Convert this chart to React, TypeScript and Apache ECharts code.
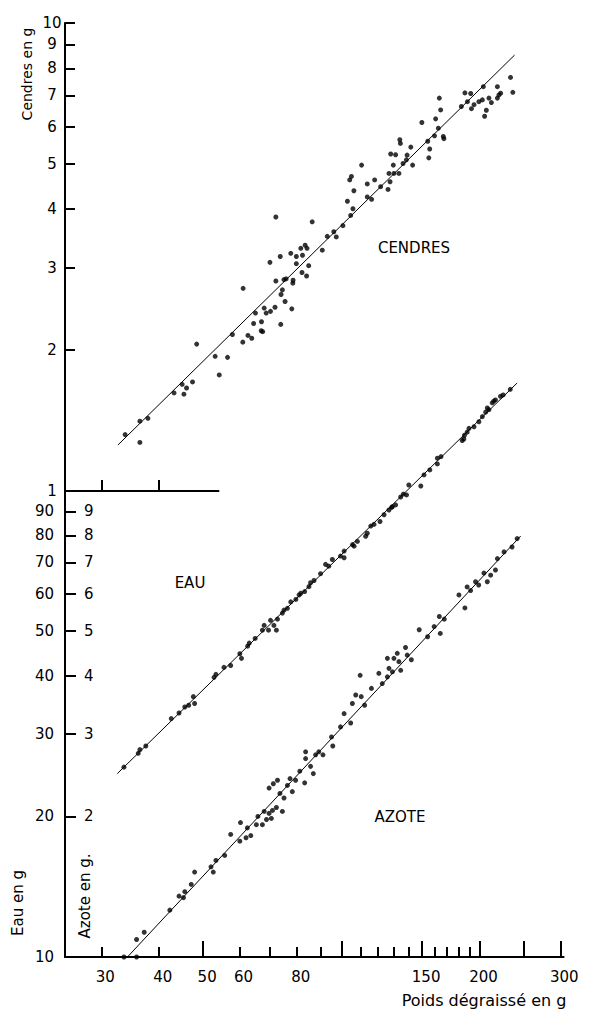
import React, { useEffect, useRef } from "react";
import * as echarts from "echarts";

// Poids dégraissé (g) vs Cendres (g)
const cendres: [number, number][] = [
  [33.8,1.32],[36.4,1.27],[36.4,1.41],[37.9,1.43],[43.2,1.62],[45.0,1.69],[45.4,1.61],[46.0,1.66],[47.4,1.71],[48.4,2.06],
  [53.1,1.94],[54.2,1.77],[56.5,1.93],[57.9,2.16],[61.1,2.71],[61.0,2.08],[62.6,2.15],[63.8,2.12],[64.4,2.28],[65.0,2.40],
  [66.9,2.20],[67.4,2.19],[67.0,2.30],[67.9,2.46],[68.6,2.40],[70.1,2.42],[71.7,2.47],[73.8,2.27],[78.0,2.45],[75.4,2.54],
  [73.9,2.63],[74.4,2.69],[72.0,2.81],[75.0,2.83],[75.8,2.84],[78.4,2.78],[78.5,2.82],[69.9,3.08],[73.6,3.17],[72.0,3.85],
  [77.6,3.22],[79.8,3.17],[79.8,3.06],[81.6,3.30],[83.4,3.35],[82.3,3.19],[82.1,2.93],[84.0,2.88],[84.9,3.03],[86.4,3.76],
  [84.2,3.30],[90.9,3.27],[93.2,3.50],[96.3,3.58],[97.5,3.49],[100.8,3.69],[104.8,3.88],[106.0,4.01],[103.1,4.16],[106.5,4.38],
  [104.3,4.62],[105.2,4.70],[110.7,4.97],[113.9,4.25],[116.4,4.20],[113.9,4.53],[118.2,4.62],[121.8,4.47],[126.4,4.41],[127.7,4.58],
  [127.0,4.77],[130.2,4.77],[133.5,4.77],[129.8,4.97],[128.1,5.25],[131.3,5.23],[134.1,5.63],[134.5,5.53],[136.3,5.01],[138.6,5.10],
  [139.1,5.22],[141.7,5.43],[143.0,4.97],[149.8,6.13],[154.3,5.59],[155.8,5.38],[155.1,5.15],[159.6,5.74],[160.5,6.24],[162.7,5.96],
  [164.6,6.52],[163.5,6.91],[166.8,5.72],[167.3,5.66],[182.6,6.63],[185.9,7.09],[191.4,7.07],[188.3,6.79],[192.1,6.56],[194.6,6.69],
  [199.4,6.79],[203.9,7.31],[205.2,6.32],[207.0,6.51],[202.9,6.85],[209.7,6.91],[212.3,6.76],[218.8,7.31],[220.5,7.02],[222.4,7.08],
  [218.8,6.91],[233.7,7.65],[236.4,7.11]
];
const cendresFit: [number, number][] = [[32.6, 1.254], [238.5, 8.54]];

// Poids dégraissé (g) vs Eau (g)
const eau: [number, number][] = [
  [33.6,25.5],[36.1,27.3],[36.4,27.8],[37.5,28.3],[42.6,32.4],[44.3,33.3],[45.6,34.3],[46.5,34.6],[47.6,36.1],[47.9,34.9],
  [52.8,39.7],[53.3,40.3],[55.5,41.7],[57.4,42.1],[60.1,44.6],[60.6,43.6],[62.5,46.3],[63.0,47.0],[64.9,48.1],[67.3,50.1],
  [67.9,51.3],[69.4,50.1],[70.1,52.6],[71.3,51.3],[72.2,50.1],[72.6,52.9],[74.4,54.5],[75.0,55.3],[76.3,55.8],[77.6,57.6],
  [79.6,58.3],[81.6,60.1],[83.2,60.6],[85.0,62.1],[87.2,64.0],[90.1,66.2],[93.9,68.7],[92.4,69.3],[95.6,71.0],[99.6,72.2],
  [101.4,74.0],[105.8,76.4],[108.4,77.6],[113.0,79.6],[115.9,83.7],[117.8,84.4],[121.4,85.6],[123.9,88.5],[127.0,90.6],[129.2,92.1],
  [131.3,92.9],[134.7,96.6],[136.5,98.0],[138.7,97.6],[140.3,102.5],[149.0,102.0],[151.4,107.7],[155.9,110.4],[161.9,113.7],[164.9,117.9],
  [161.9,117.0],[183.4,127.6],[185.5,131.0],[188.0,133.0],[194.6,136.6],[199.4,140.0],[202.9,143.6],[206.3,146.8],[208.0,149.8],[213.2,153.7],
  [216.7,155.9],[222.2,158.7],[225.2,159.8],[233.4,164.3],[80.9,59.6],[85.7,63.3],[106.6,75.8],[113.9,80.8],[101.4,71.6],[184.9,128.6],
  [189.7,135.5],[209.7,148.6],[214.9,155.0],[128.7,91.8]
];
const eauFit: [number, number][] = [[32.5, 24.7], [241.6, 169.5]];

// Poids dégraissé (g) vs Azote (g)
const azote: [number, number][] = [
  [33.6,1.0],[35.8,1.0],[35.8,1.09],[37.2,1.13],[42.3,1.26],[44.3,1.35],[45.3,1.34],[45.6,1.38],[47.1,1.43],[47.9,1.52],
  [52.0,1.56],[52.6,1.52],[53.3,1.61],[55.7,1.65],[57.4,1.83],[60.1,1.77],[60.3,1.94],[62.0,1.80],[62.4,1.89],[63.5,1.82],
  [65.3,1.92],[65.8,2.0],[67.3,1.92],[67.9,2.05],[68.7,1.97],[69.6,2.03],[70.4,1.98],[70.8,2.06],[72.2,2.09],[74.4,2.05],
  [69.6,2.30],[71.1,2.35],[72.6,2.39],[73.5,2.24],[75.0,2.19],[76.3,2.33],[77.3,2.41],[78.2,2.26],[79.5,2.39],[81.2,2.50],
  [83.2,2.36],[83.6,2.66],[83.6,2.75],[85.7,2.56],[86.9,2.47],[87.9,2.71],[89.3,2.75],[91.2,2.71],[95.2,2.96],[95.8,2.83],
  [99.6,3.11],[101.4,3.32],[104.8,3.17],[105.7,3.49],[107.5,3.64],[110.5,3.61],[112.4,3.46],[116.3,3.76],[109.9,4.01],[120.7,4.05],
  [122.8,3.85],[126.0,3.98],[127.0,4.15],[129.2,4.08],[126.0,4.36],[130.2,4.36],[132.4,4.47],[133.5,4.29],[134.7,4.11],[138.0,4.60],
  [139.2,4.43],[142.1,4.33],[147.8,5.02],[154.2,4.85],[159.3,5.10],[163.5,5.36],[164.3,4.93],[167.6,5.29],[180.4,5.96],[185.9,5.59],
  [188.0,6.20],[191.3,6.09],[196.1,6.36],[199.2,6.26],[204.5,6.64],[208.0,6.36],[211.5,6.57],[216.7,6.74],[218.8,7.13],[226.2,7.37],
  [235.5,7.55],[241.6,7.87]
];
const azoteFit: [number, number][] = [[34.0, 0.994], [245.9, 7.97]];

// Tick / label values
const topXTicks = [30, 40];
const xTicksShort = [30, 40, 60, 70, 80, 90, 110, 120, 130, 140, 160, 170, 180, 190];
const xTicksLong = [50, 100, 150, 200, 250, 300];
const xLabels = [30, 40, 50, 60, 80, 150, 200, 300];
const cendresTicks = [1, 2, 3, 4, 5, 6, 7, 8, 9, 10];
const eauTicks = [10, 20, 30, 40, 50, 60, 70, 80, 90];
const azoteLabels = [2, 3, 4, 5, 6, 7, 8, 9];

const FONT = "DejaVu Sans";
const BLACK = "#000";

export default function App() {
  const ref = useRef<HTMLDivElement>(null);

  useEffect(() => {
    if (!ref.current) return;
    const chart = echarts.init(ref.current, undefined, { renderer: "svg" });
    const line = { show: true, onZero: false, lineStyle: { color: BLACK, width: 2 } };
    const labelStyle = { color: BLACK, fontFamily: FONT, fontSize: 15 };
    const dots = { symbol: "circle", symbolSize: 5, itemStyle: { color: BLACK }, clip: false, silent: true };
    const fit = { symbol: "none", showSymbol: false, lineStyle: { color: BLACK, width: 1 }, clip: false, silent: true };
    const hidden = { axisLine: { show: false }, axisTick: { show: false }, axisLabel: { show: false }, splitLine: { show: false } };

    chart.setOption({
      animation: false,
      backgroundColor: "#fff",
      grid: [
        // top panel: short visible axes
        { left: 65, top: 23, width: 153.5, height: 468, containLabel: false, outerBoundsMode: "none" },
        // bottom panel
        { left: 65, top: 490, width: 498.6, height: 467, containLabel: false, outerBoundsMode: "none" },
        // top panel: full-width data grid (same scale as the bottom x axis)
        { left: 65, top: 23, width: 498.6, height: 468, containLabel: false, outerBoundsMode: "none" },
      ],
      xAxis: [
        {
          gridIndex: 0, type: "log", logBase: 10, min: 25, max: 54, position: "bottom",
          axisLine: line,
          axisTick: { show: true, inside: true, length: 11, customValues: topXTicks, lineStyle: { color: BLACK, width: 2 } },
          axisLabel: { show: false }, splitLine: { show: false },
        },
        {
          gridIndex: 1, type: "log", logBase: 10, min: 25, max: 305, position: "bottom",
          axisLine: line,
          axisTick: { show: true, inside: true, length: 10, customValues: xTicksShort, lineStyle: { color: BLACK, width: 2 } },
          axisLabel: { ...labelStyle, customValues: xLabels, margin: 12, padding: [0, 0, 0, 8] },
          splitLine: { show: false },
        },
        {
          gridIndex: 1, type: "log", logBase: 10, min: 25, max: 305, position: "bottom", offset: 0,
          axisLine: { show: false },
          axisTick: { show: true, inside: true, length: 16, customValues: xTicksLong, lineStyle: { color: BLACK, width: 2 } },
          axisLabel: { show: false }, splitLine: { show: false },
        },
        { gridIndex: 2, type: "log", logBase: 10, min: 25, max: 305, position: "bottom", ...hidden },
      ],
      yAxis: [
        {
          gridIndex: 0, type: "log", logBase: 10, min: 1, max: 10, position: "left",
          axisLine: line,
          axisTick: { show: true, inside: true, length: 10, customValues: cendresTicks, lineStyle: { color: BLACK, width: 2 } },
          axisLabel: { ...labelStyle, customValues: cendresTicks, align: "center", margin: 13 },
          splitLine: { show: false },
        },
        {
          gridIndex: 1, type: "log", logBase: 10, min: 10, max: 100, position: "left",
          axisLine: line,
          axisTick: { show: true, inside: true, length: 11, customValues: eauTicks, lineStyle: { color: BLACK, width: 2 } },
          axisLabel: { ...labelStyle, customValues: eauTicks, margin: 11, padding: [0, 0, 8, 0] },
          splitLine: { show: false },
        },
        {
          gridIndex: 1, type: "log", logBase: 10, min: 1, max: 10, position: "left", offset: 0,
          axisLine: { show: false }, axisTick: { show: false },
          axisLabel: { ...labelStyle, customValues: azoteLabels, inside: true, margin: 19, padding: [0, 0, 8, 0] },
          splitLine: { show: false },
        },
        { gridIndex: 2, type: "log", logBase: 10, min: 1, max: 10, position: "left", ...hidden },
      ],
      series: [
        { ...dots, type: "scatter", name: "Cendres", xAxisIndex: 3, yAxisIndex: 3, data: cendres },
        { ...fit, type: "line", xAxisIndex: 3, yAxisIndex: 3, data: cendresFit },
        { ...dots, type: "scatter", name: "Eau", xAxisIndex: 1, yAxisIndex: 1, data: eau },
        { ...fit, type: "line", xAxisIndex: 1, yAxisIndex: 1, data: eauFit },
        { ...dots, type: "scatter", name: "Azote", xAxisIndex: 1, yAxisIndex: 2, data: azote },
        { ...fit, type: "line", xAxisIndex: 1, yAxisIndex: 2, data: azoteFit },
      ],
      graphic: [
        { type: "text", x: 27, y: 74, rotation: Math.PI / 2, style: { text: "Cendres en g", fontFamily: FONT, fontSize: 14, fill: BLACK, align: "center", verticalAlign: "middle" } },
        { type: "text", x: 18, y: 903, rotation: Math.PI / 2, style: { text: "Eau en g", fontFamily: FONT, fontSize: 15, fill: BLACK, align: "center", verticalAlign: "middle" } },
        { type: "text", x: 85, y: 896, rotation: Math.PI / 2, style: { text: "Azote en g.", fontFamily: FONT, fontSize: 15, fill: BLACK, align: "center", verticalAlign: "middle" } },
        { type: "text", x: 414, y: 248, style: { text: "CENDRES", fontFamily: FONT, fontSize: 15, fill: BLACK, align: "center", verticalAlign: "middle" } },
        { type: "text", x: 190, y: 583, style: { text: "EAU", fontFamily: FONT, fontSize: 15, fill: BLACK, align: "center", verticalAlign: "middle" } },
        { type: "text", x: 400, y: 817, style: { text: "AZOTE", fontFamily: FONT, fontSize: 15, fill: BLACK, align: "center", verticalAlign: "middle" } },
        { type: "text", x: 484, y: 1000, style: { text: "Poids dégraissé en g", fontFamily: FONT, fontSize: 16, fill: BLACK, align: "center", verticalAlign: "middle" } },
      ],
    });
    return () => chart.dispose();
  }, []);

  return <div ref={ref} style={{ position: "absolute", left: 0, top: 0, width: 594, height: 1024 }} />;
}
